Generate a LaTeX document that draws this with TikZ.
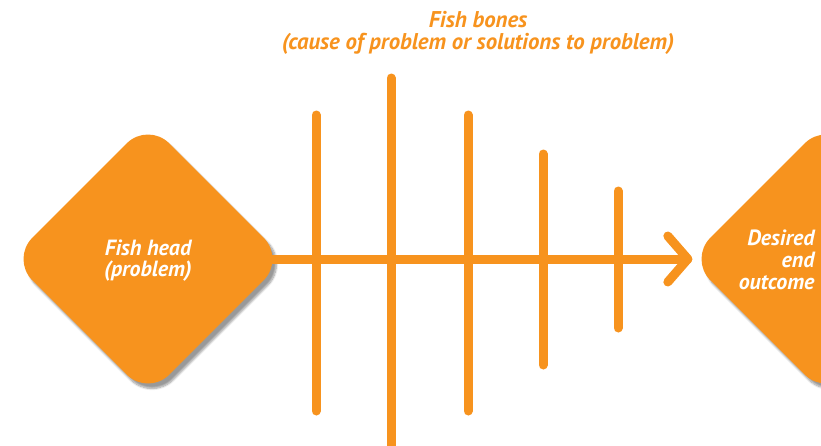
\documentclass[tikz,border=0pt]{standalone}
\usepackage{fontspec}
\setmainfont{PT Sans}
\usetikzlibrary{shapes.geometric,shadows.blur}
\definecolor{fishorange}{HTML}{F7931E}
\begin{document}
\begin{tikzpicture}[x=1pt,y=-1pt,
  bone/.style={draw=fishorange, line width=9pt, line cap=round},
  fishbox/.style={shape=diamond, fill=fishorange, minimum width=274pt, minimum height=274pt, inner sep=0pt, rounded corners=30pt,
    blur shadow={shadow xshift=4pt, shadow yshift=-5pt, shadow blur steps=8, shadow opacity=40}},
  lab/.style={text=white, font=\bfseries\itshape\fontsize{22}{22}\selectfont, anchor=base},
  ttl/.style={text=fishorange, font=\bfseries\itshape\fontsize{22.8}{22}\selectfont, anchor=base}]
\useasboundingbox (0,0) rectangle (821,445);
\clip (0,0) rectangle (821,445);
% bones
\foreach \n/\x/\t/\b in {1/316/115/411, 2/391/78/460, 3/468/115/411, 4/543/154/365, 5/618/191/328}{
  \coordinate (bt\n) at (\x,\t);
  \coordinate (bb\n) at (\x,\b);
  \draw[bone] (bt\n) -- (bb\n);
}
\node[fishbox] (head) at (148,259) {};
\node[fishbox] (goal) at (826,259) {};
\coordinate (tip) at ([xshift=-1pt]goal.west);
\draw[bone] ([xshift=-14pt]head.east) -- (tip);
\draw[bone, line join=round] ([xshift=-20pt, yshift=-23pt]tip) -- (tip) -- ([xshift=-20pt, yshift=23pt]tip);
\node[lab] (head1) at (148,255) {Fish head};
\node[lab] (head2) at (148,276) {(problem)};
\node[lab, anchor=base east] (goal1) at (818,245) {Desired};
\node[lab, anchor=base east] (goal2) at (818,267) {end};
\node[lab, anchor=base east] (goal3) at (818,289) {outcome};
\node[ttl] (title1) at (478,27) {Fish bones};
\node[ttl] (title2) at (478,49) {(cause of problem or solutions to problem)};
\end{tikzpicture}
\end{document}
